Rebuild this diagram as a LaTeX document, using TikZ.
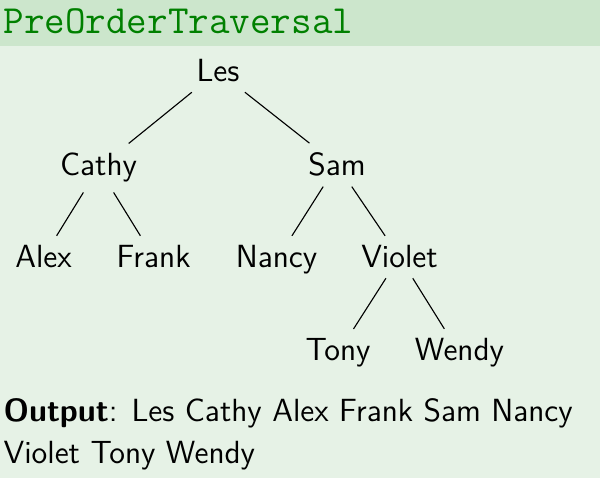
\documentclass[tikz,border=0pt]{standalone}
\usepackage{fontspec}
\definecolor{titlebg}{RGB}{204,230,204}
\definecolor{bodybg}{RGB}{230,242,230}
\definecolor{titlefg}{RGB}{0,128,0}
\begin{document}
\begin{tikzpicture}[x=0.0125cm,y=-0.0125cm,
  tn/.style={font=\fontsize{11.4}{13.7}\selectfont\sffamily, anchor=base, inner sep=0.3333em},
  edge/.style={draw=black, line width=0.4pt}]
\useasboundingbox (0,0) rectangle (600,478);
\fill[bodybg] (0,46) rectangle (600,478);
\fill[titlebg] (0,0) rectangle (600,46);
\node[anchor=base west, inner sep=0, text=titlefg,
      font=\fontsize{14.2}{17}\selectfont\ttfamily] (title) at (3,34) {PreOrderTraversal};
\node[tn] (les) at (218,82) {Les};
\node[tn] (cathy) at (98.5,176) {Cathy};
\node[tn] (sam) at (337,176) {Sam};
\node[tn] (alex) at (43.5,268) {Alex};
\node[tn] (frank) at (153.5,268) {Frank};
\node[tn] (nancy) at (276.5,268) {Nancy};
\node[tn] (violet) at (399.5,268) {Violet};
\node[tn] (tony) at (338,361) {Tony};
\node[tn] (wendy) at (459.5,361) {Wendy};
\draw[edge] (les) -- (cathy);
\draw[edge] (les) -- (sam);
\draw[edge] (cathy) -- (alex);
\draw[edge] (cathy) -- (frank);
\draw[edge] (sam) -- (nancy);
\draw[edge] (sam) -- (violet);
\draw[edge] (violet) -- (tony);
\draw[edge] (violet) -- (wendy);
\node[anchor=base west, inner sep=0, align=left,
      font=\fontsize{11.4}{14.94}\selectfont\sffamily] (out) at (3,464)
  {\textbf{Output}: Les Cathy Alex Frank Sam Nancy\\Violet Tony Wendy};
\end{tikzpicture}
\end{document}
